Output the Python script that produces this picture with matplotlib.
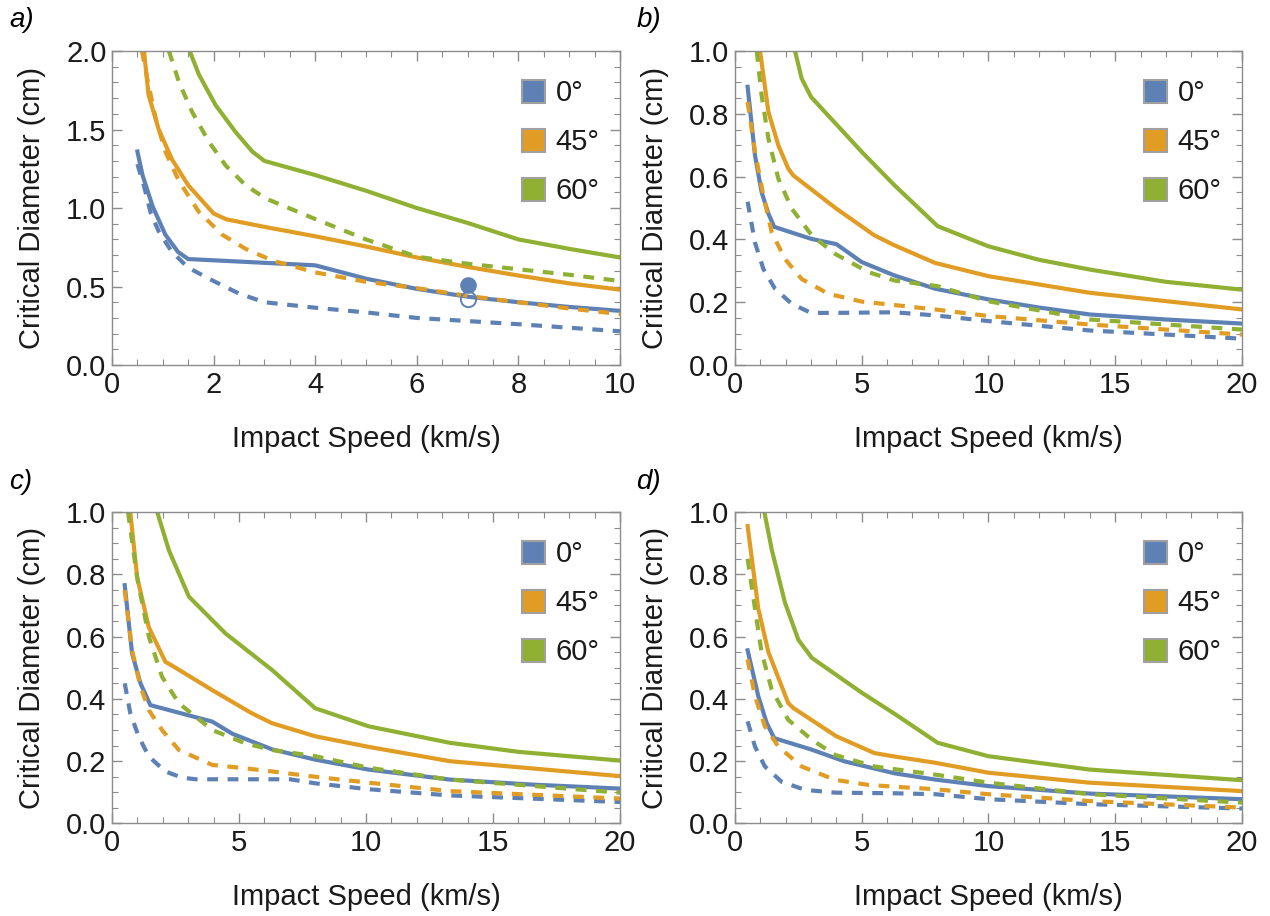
import matplotlib
matplotlib.use("Agg")
import matplotlib.pyplot as plt
from matplotlib.patches import Patch
from matplotlib.ticker import MultipleLocator

plt.rcParams['font.family'] = ['Liberation Sans', 'DejaVu Sans']

# colours (Mathematica default palette)
BLUE = '#5e81b5'
ORANGE = '#e19c24'
GREEN = '#8fb032'

angles = ['0°', '45°', '60°']

# ---- panel a ----
a_blue_x = [0.5, 0.6, 0.8, 1.05, 1.3, 1.5, 4.0, 5.0, 6.0, 7.0, 8.0, 9.0, 10.0]
a_blue_y = [1.36, 1.21, 1.01, 0.83, 0.72, 0.675, 0.635, 0.55, 0.485, 0.435, 0.40, 0.37, 0.345]
a_blue_dx = [0.5, 0.63, 0.76, 0.92, 1.18, 1.5, 2.0, 2.5, 3.0, 4.0, 5.0, 6.0, 8.0, 10.0]
a_blue_dy = [1.28, 1.14, 0.97, 0.85, 0.72, 0.62, 0.535, 0.455, 0.40, 0.365, 0.335, 0.30, 0.26, 0.215]
a_orange_x = [0.63, 0.72, 0.92, 1.18, 1.5, 2.0, 2.25, 3.0, 4.0, 5.0, 6.0, 7.0, 8.0, 9.0, 10.0]
a_orange_y = [2.0, 1.72, 1.50, 1.31, 1.145, 0.965, 0.928, 0.88, 0.82, 0.755, 0.685, 0.625, 0.57, 0.52, 0.48]
a_orange_dx = [0.59, 0.69, 0.86, 1.05, 1.32, 1.71, 2.17, 2.63, 3.16, 4.0, 5.0, 6.0, 7.0, 8.0, 9.0, 10.0]
a_orange_dy = [2.0, 1.83, 1.57, 1.36, 1.17, 0.975, 0.83, 0.74, 0.665, 0.59, 0.53, 0.49, 0.44, 0.40, 0.36, 0.325]
a_green_x = [1.53, 1.71, 2.04, 2.43, 2.76, 3.0, 4.0, 5.0, 6.0, 7.0, 8.0, 9.0, 10.0]
a_green_y = [2.0, 1.85, 1.655, 1.485, 1.36, 1.30, 1.21, 1.11, 1.0, 0.905, 0.80, 0.74, 0.685]
a_green_dx = [1.12, 1.32, 1.58, 1.91, 2.24, 2.63, 3.03, 4.0, 5.0, 6.0, 7.0, 8.0, 9.0, 10.0]
a_green_dy = [2.0, 1.80, 1.61, 1.42, 1.27, 1.145, 1.06, 0.93, 0.80, 0.69, 0.645, 0.61, 0.575, 0.535]
# measured points in panel a
a_meas_x = [7.0]
a_meas_filled = [0.51]
a_meas_open = [0.42]

# ---- panel b ----
b_blue_x = [0.5, 0.79, 1.05, 1.32, 1.55, 3.0, 4.0, 5.0, 6.3, 7.9, 10, 12, 14, 17, 20]
b_blue_y = [0.886, 0.668, 0.551, 0.482, 0.44, 0.402, 0.385, 0.328, 0.285, 0.243, 0.209, 0.183, 0.161, 0.145, 0.132]
b_blue_dx = [0.5, 0.79, 1.12, 1.58, 2.24, 3.0, 4.0, 6.3, 7.9, 10, 14, 20]
b_blue_dy = [0.52, 0.39, 0.306, 0.243, 0.195, 0.166, 0.166, 0.168, 0.158, 0.14, 0.11, 0.084]
b_orange_x = [0.99, 1.32, 1.71, 2.1, 2.3, 4.0, 5.5, 6.3, 7.9, 10, 14, 20]
b_orange_y = [1.0, 0.806, 0.70, 0.626, 0.604, 0.498, 0.413, 0.381, 0.325, 0.283, 0.23, 0.177]
b_orange_dx = [0.5, 0.79, 1.12, 1.45, 1.97, 2.63, 3.68, 5.0, 6.3, 7.9, 10, 14, 20]
b_orange_dy = [0.838, 0.679, 0.54, 0.423, 0.338, 0.274, 0.227, 0.202, 0.191, 0.177, 0.156, 0.129, 0.097]
b_green_x = [2.37, 2.63, 3.0, 5.0, 6.3, 8.0, 10, 12, 14, 17, 20]
b_green_y = [1.0, 0.913, 0.854, 0.679, 0.572, 0.442, 0.378, 0.335, 0.304, 0.265, 0.24]
b_green_dx = [0.86, 1.05, 1.32, 1.71, 2.24, 3.03, 3.95, 5.26, 6.3, 8, 10, 14, 20]
b_green_dy = [1.0, 0.86, 0.721, 0.594, 0.498, 0.413, 0.354, 0.296, 0.269, 0.251, 0.203, 0.145, 0.113]

# ---- panel c ----
c_blue_x = [0.5, 0.79, 1.12, 1.51, 3.95, 4.74, 6.3, 8, 10.1, 13.3, 16.5, 20]
c_blue_y = [0.765, 0.546, 0.45, 0.38, 0.327, 0.288, 0.238, 0.205, 0.173, 0.141, 0.125, 0.112]
c_blue_dx = [0.5, 0.72, 1.05, 1.45, 2.1, 2.76, 3.3, 7.0, 8, 10.1, 13.3, 20]
c_blue_dy = [0.45, 0.354, 0.279, 0.215, 0.167, 0.147, 0.142, 0.142, 0.129, 0.11, 0.09, 0.069]
c_orange_x = [0.72, 0.99, 1.45, 2.1, 2.3, 3.95, 5.5, 6.3, 8, 10.1, 13.3, 20]
c_orange_y = [1.0, 0.79, 0.63, 0.519, 0.51, 0.428, 0.354, 0.322, 0.28, 0.246, 0.2, 0.152]
c_orange_dx = [0.5, 0.79, 1.12, 1.45, 1.97, 2.63, 3.95, 5.26, 6.3, 8, 10.1, 13.3, 20]
c_orange_dy = [0.749, 0.556, 0.44, 0.364, 0.30, 0.236, 0.188, 0.177, 0.167, 0.15, 0.131, 0.104, 0.08]
c_green_x = [1.78, 2.24, 3.03, 4.47, 6.3, 8, 10.1, 13.3, 16, 20]
c_green_y = [1.0, 0.877, 0.728, 0.61, 0.493, 0.37, 0.312, 0.259, 0.23, 0.202]
c_green_dx = [0.63, 0.99, 1.45, 1.97, 2.63, 3.95, 5.26, 6.3, 8, 10.1, 13.3, 20]
c_green_dy = [1.0, 0.79, 0.6, 0.471, 0.386, 0.30, 0.257, 0.236, 0.216, 0.179, 0.141, 0.099]

# ---- panel d ----
d_blue_x = [0.5, 0.92, 1.25, 1.55, 3.03, 4.34, 6.3, 7.9, 10, 14, 20]
d_blue_y = [0.556, 0.409, 0.323, 0.274, 0.237, 0.199, 0.161, 0.141, 0.12, 0.096, 0.078]
d_blue_dx = [0.5, 0.79, 1.18, 1.84, 2.76, 3.95, 6.3, 7.9, 10, 14, 20]
d_blue_dy = [0.328, 0.247, 0.183, 0.134, 0.108, 0.099, 0.097, 0.094, 0.078, 0.062, 0.048]
d_orange_x = [0.5, 0.92, 1.32, 2.1, 2.3, 4.0, 5.5, 6.3, 7.9, 10, 14, 20]
d_orange_y = [0.955, 0.69, 0.55, 0.387, 0.371, 0.28, 0.226, 0.215, 0.195, 0.163, 0.131, 0.104]
d_orange_dx = [0.5, 0.79, 1.18, 1.71, 2.63, 3.95, 5.26, 6.3, 7.9, 10, 14, 20]
d_orange_dy = [0.527, 0.409, 0.312, 0.247, 0.183, 0.14, 0.124, 0.118, 0.11, 0.094, 0.072, 0.051]
d_green_x = [1.16, 1.45, 1.97, 2.5, 3.03, 5.0, 6.3, 8, 10, 14, 20]
d_green_y = [1.0, 0.88, 0.71, 0.59, 0.532, 0.42, 0.352, 0.259, 0.216, 0.173, 0.139]
d_green_dx = [0.5, 0.79, 1.05, 1.45, 2.1, 3.03, 3.95, 5.5, 7.9, 10, 14, 20]
d_green_dy = [0.85, 0.69, 0.55, 0.43, 0.333, 0.269, 0.22, 0.183, 0.157, 0.131, 0.094, 0.067]

panels = {
    'a': [(a_blue_x, a_blue_y, a_blue_dx, a_blue_dy),
          (a_orange_x, a_orange_y, a_orange_dx, a_orange_dy),
          (a_green_x, a_green_y, a_green_dx, a_green_dy)],
    'b': [(b_blue_x, b_blue_y, b_blue_dx, b_blue_dy),
          (b_orange_x, b_orange_y, b_orange_dx, b_orange_dy),
          (b_green_x, b_green_y, b_green_dx, b_green_dy)],
    'c': [(c_blue_x, c_blue_y, c_blue_dx, c_blue_dy),
          (c_orange_x, c_orange_y, c_orange_dx, c_orange_dy),
          (c_green_x, c_green_y, c_green_dx, c_green_dy)],
    'd': [(d_blue_x, d_blue_y, d_blue_dx, d_blue_dy),
          (d_orange_x, d_orange_y, d_orange_dx, d_orange_dy),
          (d_green_x, d_green_y, d_green_dx, d_green_dy)],
}

colors = [BLUE, ORANGE, GREEN]
FRAME = '#8c8c8c'
TXT = '#1a1a1a'
LW = 3.0

fig = plt.figure(figsize=(12.7, 9.16), dpi=100)

# axes boxes in figure fraction [left, bottom, width, height]
boxes = {
    'a': [0.0882, 0.6015, 0.400, 0.3428],
    'b': [0.5787, 0.6015, 0.3992, 0.3428],
    'c': [0.0882, 0.1010, 0.400, 0.3400],
    'd': [0.5787, 0.1010, 0.3992, 0.3400],
}
label_pos = {'a': (0.007, 0.978), 'b': (0.501, 0.978), 'c': (0.007, 0.474), 'd': (0.501, 0.474)}

for key, series in panels.items():
    ax = fig.add_axes(boxes[key])
    for (sx, sy, dx, dy), col in zip(series, colors):
        ax.plot(dx, dy, color=col, lw=LW, ls=(0, (2.6, 2.3)), dash_capstyle='butt')
        ax.plot(sx, sy, color=col, lw=LW, solid_joinstyle='miter')

    if key == 'a':
        ax.plot(a_meas_x, a_meas_filled, 'o', color=BLUE, ms=11, zorder=5)
        ax.plot(a_meas_x, a_meas_open, 'o', mfc='none', mec=BLUE, mew=1.4, ms=11, zorder=5)
        ax.set_xlim(0, 10)
        ax.set_ylim(0, 2.0)
        ax.xaxis.set_major_locator(MultipleLocator(2))
        ax.xaxis.set_minor_locator(MultipleLocator(0.5))
        ax.yaxis.set_major_locator(MultipleLocator(0.5))
        ax.yaxis.set_minor_locator(MultipleLocator(0.1))
    else:
        ax.set_xlim(0, 20)
        ax.set_ylim(0, 1.0)
        ax.xaxis.set_major_locator(MultipleLocator(5))
        ax.xaxis.set_minor_locator(MultipleLocator(1))
        ax.yaxis.set_major_locator(MultipleLocator(0.2))
        ax.yaxis.set_minor_locator(MultipleLocator(0.05))
    ax.yaxis.set_major_formatter(matplotlib.ticker.FormatStrFormatter('%.1f'))

    for sp in ax.spines.values():
        sp.set_color(FRAME)
        sp.set_linewidth(1.0)
    ax.tick_params(which='both', direction='in', top=True, right=True, color=FRAME,
                   labelsize=21, labelcolor=TXT, pad=4)
    ax.tick_params(which='major', length=7, width=1.0)
    ax.tick_params(which='minor', length=4, width=0.8)

    ax.set_xlabel('Impact Speed (km/s)', fontsize=21, color=TXT)
    ax.set_ylabel('Critical Diameter (cm)', fontsize=21, color=TXT)
    ax.xaxis.set_label_coords(0.5, -0.19)
    ax.yaxis.set_label_coords(-0.13, 0.5)

    handles = [Patch(facecolor=c, edgecolor='#a0a0a0', lw=1.5) for c in colors]
    leg = ax.legend(handles, angles, loc='upper right', bbox_to_anchor=(1.0, 0.975),
                    frameon=False, fontsize=21, handlelength=0.8, handleheight=0.85,
                    handletextpad=0.35, labelspacing=0.72, borderaxespad=0.3)
    for t in leg.get_texts():
        t.set_color(TXT)

    fig.text(*label_pos[key], key + ')', fontsize=20, style='italic', va='center', ha='left')

fig.savefig('out.png', dpi=100)
